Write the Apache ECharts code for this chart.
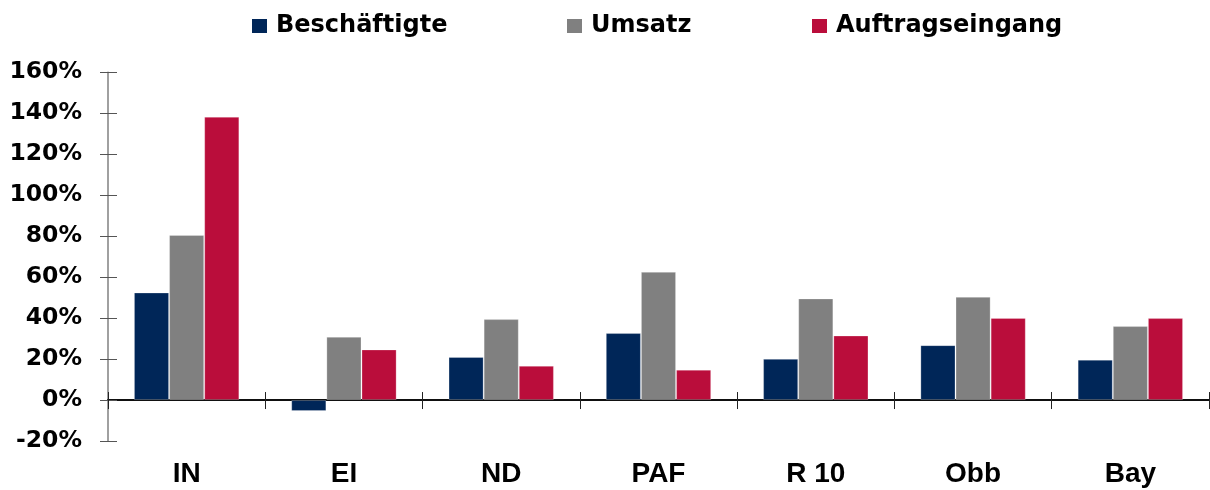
<!DOCTYPE html>
<html>
<head>
<meta charset="utf-8">
<script src="https://cdn.jsdelivr.net/npm/echarts@6/dist/echarts.min.js"></script>
<style>
html,body{margin:0;padding:0;background:#fff;}
#chart{width:1210px;height:490px;}
</style>
</head>
<body>
<div id="chart"></div>
<script>
const categories = ['IN', 'EI', 'ND', 'PAF', 'R 10', 'Obb', 'Bay'];
const seriesNames = ['Beschäftigte', 'Umsatz', 'Auftragseingang'];
const beschaeftigte = [52.5, -5.4, 21, 32.7, 20.1, 26.8, 19.7];
const umsatz = [80.6, 30.9, 39.5, 62.6, 49.6, 50.4, 36.1];
const auftragseingang = [138.3, 24.7, 16.7, 14.8, 31.5, 40.1, 40];
const colors = ['#002658', '#808080', '#BA0D3B'];

const chart = echarts.init(document.getElementById('chart'), null, {renderer: 'canvas'});
const legendFont = {fontFamily: 'DejaVu Sans', fontWeight: 'bold', fontSize: 24, color: '#000', padding: [0, 0, 0, 4]};
const legendLefts = [252, 567, 812];
const values = [beschaeftigte, umsatz, auftragseingang];

chart.setOption({
  animation: false,
  color: colors,
  legend: seriesNames.map((n, i) => ({
    data: [n],
    left: legendLefts[i],
    top: 14,
    padding: 0,
    itemWidth: 15,
    itemHeight: 14,
    icon: 'rect',
    itemStyle: {borderWidth: 0},
    textStyle: legendFont,
    selectedMode: false
  })),
  grid: {left: 108, right: 1, top: 72.3, bottom: 49, containLabel: false},
  xAxis: [
    {
      type: 'category', data: categories, position: 'bottom',
      axisLine: {show: false, onZero: false},
      axisTick: {show: false},
      axisLabel: {fontFamily: 'Liberation Sans', fontWeight: 'bold', fontSize: 28, color: '#000', margin: 19}
    },
    {
      type: 'category', data: categories, position: 'bottom',
      axisLine: {show: true, onZero: true, onZeroAxisIndex: 0, lineStyle: {color: '#000', width: 1.5}},
      axisTick: {show: true, length: 9, lineStyle: {color: '#222', width: 1}},
      axisLabel: {show: false}
    },
    {
      type: 'category', data: categories, position: 'bottom',
      axisLine: {show: true, onZero: true, onZeroAxisIndex: 0, lineStyle: {color: '#000', width: 1.5}},
      axisTick: {show: true, inside: true, length: 8, lineStyle: {color: '#222', width: 1}},
      axisLabel: {show: false}
    }
  ],
  yAxis: [
    {
      type: 'value', min: -20, max: 160, interval: 20, position: 'left',
      axisLine: {show: true, lineStyle: {color: '#808080', width: 1.5}},
      axisTick: {show: true, length: 8, lineStyle: {color: '#555', width: 1}},
      axisLabel: {formatter: '{value}%', fontFamily: 'DejaVu Sans', fontWeight: 'bold', fontSize: 23.5, color: '#000', margin: 26},
      splitLine: {show: false}
    },
    {
      type: 'value', min: -20, max: 160, interval: 20, position: 'left',
      axisLine: {show: false},
      axisTick: {show: true, inside: true, length: 9, lineStyle: {color: '#555', width: 1}},
      axisLabel: {show: false},
      splitLine: {show: false}
    }
  ],
  series: seriesNames.map((n, i) => ({
    name: n,
    type: 'bar',
    xAxisIndex: 0,
    yAxisIndex: 0,
    data: values[i],
    barGap: '0%',
    barCategoryGap: '33%',
    itemStyle: {color: colors[i], borderColor: 'rgba(255,255,255,0.25)', borderWidth: 1}
  }))
});
</script>
</body>
</html>
